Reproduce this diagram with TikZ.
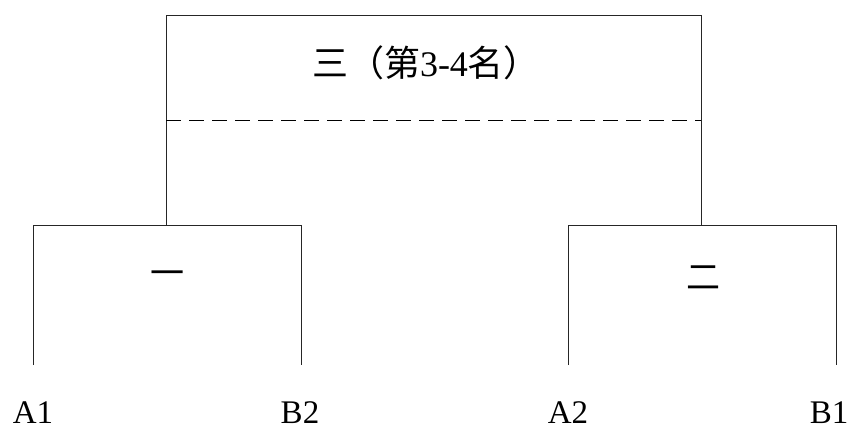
\documentclass[tikz,border=0pt]{standalone}
\usepackage{fontspec}
\setmainfont{Liberation Serif}
\newfontfamily\cjk{Noto Sans CJK SC}
\begin{document}
\begin{tikzpicture}[x=1pt,y=-1pt,
  bracket/.style={draw=black!85,line width=0.9pt},
  divider/.style={draw=black,line width=1pt,dash pattern=on 15pt off 8pt},
  label/.style={font=\fontsize{33}{36}\selectfont,inner sep=0pt,text depth=0pt,anchor=base},
  cjklabel/.style={font=\fontsize{34}{38}\selectfont\cjk,inner sep=0pt}]
\useasboundingbox (0,0) rectangle (855,432);
% top bracket
\coordinate (ta) at (166,225);
\coordinate (tb) at (166,15);
\coordinate (tc) at (701,15);
\coordinate (td) at (701,225);
\coordinate (da) at (166,120);
\coordinate (db) at (701,120);
% left bracket
\coordinate (la) at (33,365);
\coordinate (lb) at (33,225);
\coordinate (lc) at (301,225);
\coordinate (ld) at (301,365);
% right bracket
\coordinate (ra) at (568,365);
\coordinate (rb) at (568,225);
\coordinate (rc) at (836,225);
\coordinate (rd) at (836,365);
\path[bracket] (ta) -- (tb) -- (tc) -- (td);
\path[divider] (da) -- (db);
\path[bracket] (la) -- (lb) -- (lc) -- (ld);
\path[bracket] (ra) -- (rb) -- (rc) -- (rd);
\node[cjklabel,font=\fontsize{36}{40}\selectfont\cjk] (title) at (426,63) {三（第{\rmfamily 3-4}名）};
\node[cjklabel] (one) at (167,278) {一};
\node[cjklabel] (two) at (703,278) {二};
\node[label] (A1) at (33,423) {A1};
\node[label] (B2) at (300,423) {B2};
\node[label] (A2) at (568,423) {A2};
\node[label] (B1) at (829,423) {B1};
\end{tikzpicture}
\end{document}
